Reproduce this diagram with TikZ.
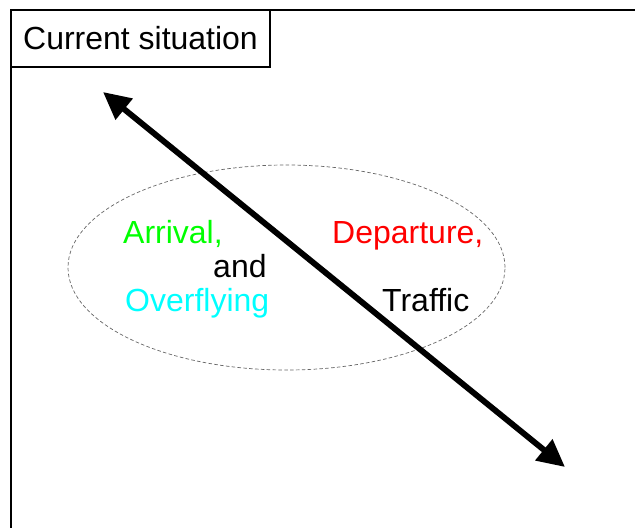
\documentclass[tikz,border=0pt]{standalone}
\usepackage{fontspec}
\setmainfont{Liberation Sans}
\usetikzlibrary{arrows.meta,shapes.geometric}

\definecolor{verde}{RGB}{0,255,0}
\definecolor{cian}{RGB}{0,255,255}
\definecolor{rojo}{RGB}{255,0,0}

\tikzset{
    etiqueta/.style={anchor=base west, inner sep=0pt, font=\fontsize{27.3}{33}\selectfont},
    marco/.style={line width=1.3pt}
}

\begin{document}
\begin{tikzpicture}[x=0.03cm, y=-0.03cm]
\useasboundingbox (0,0) rectangle (635,528);

% Marco exterior
\draw[marco] (11,528) -- (11,10) -- (635,10);

% Caja del titulo
\node[draw, marco, anchor=north west, outer sep=0pt, minimum width=7.77cm, minimum height=1.71cm,
      font=\fontsize{27.3}{33}\selectfont] (titulo) at (11,10) {Current situation};

% Elipse de trafico
\node[ellipse, draw=black!60, densely dashed, line width=0.6pt, inner sep=0pt,
      minimum width=13.11cm, minimum height=6.15cm] (trafico) at (286.5,267.5) {};

% Etiquetas de colores
\foreach \nombre/\x/\y/\col/\texto in {
    llegada/123/243/verde/{Arrival,},
    y/213/277/black/{and},
    sobrevuelo/125/311/cian/{Overflying},
    salida/332/243/rojo/{Departure,},
    trafic/382/311/black/{Traffic}} {
    \node[etiqueta, text=\col] (\nombre) at (\x,\y) {\texto};
}

% Flecha doble
\coordinate (ini) at (103,92);
\coordinate (fin) at (565,467);
\draw[line width=5pt, {Triangle[length=8.2mm, width=7.8mm]}-{Triangle[length=8.2mm, width=7.8mm]}] (ini) -- (fin);

\end{tikzpicture}
\end{document}
